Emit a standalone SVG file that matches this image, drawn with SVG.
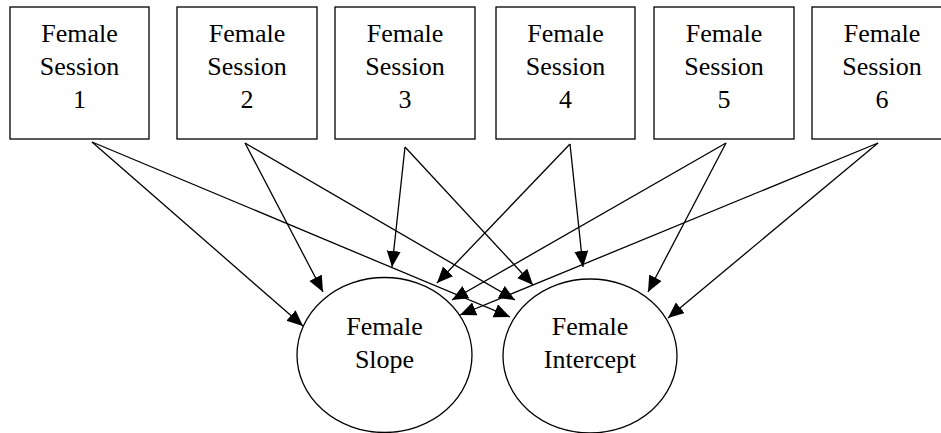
<svg xmlns="http://www.w3.org/2000/svg" width="941" height="433" viewBox="0 0 941 433">
<style>
.box{fill:#fff;stroke:#000;stroke-width:1.3}
.ell{fill:#fff;stroke:#000;stroke-width:1.3}
.lbl{font-family:"Liberation Serif","Times New Roman",serif;font-size:26px;fill:#000;text-anchor:middle}
.edge{stroke:#000;stroke-width:1.3;fill:none;marker-end:url(#ah)}
</style>
<defs>
<marker id="ah" markerUnits="userSpaceOnUse" markerWidth="17" markerHeight="15" refX="16" refY="7" orient="auto">
<path d="M0,0 L16,7 L0,14 z" fill="#000"/>
</marker>
</defs>
<rect width="941" height="433" fill="#fff"/>
<g id="s1"><rect class="box" x="10" y="7" width="139" height="132"/><text class="lbl" x="79.5" y="42">Female</text><text class="lbl" x="79.5" y="75">Session</text><text class="lbl" x="79.5" y="108">1</text></g>
<g id="s2"><rect class="box" x="177" y="7" width="140" height="132"/><text class="lbl" x="247" y="42">Female</text><text class="lbl" x="247" y="75">Session</text><text class="lbl" x="247" y="108">2</text></g>
<g id="s3"><rect class="box" x="335" y="7" width="140" height="132"/><text class="lbl" x="405" y="42">Female</text><text class="lbl" x="405" y="75">Session</text><text class="lbl" x="405" y="108">3</text></g>
<g id="s4"><rect class="box" x="496" y="7" width="139" height="132"/><text class="lbl" x="565.5" y="42">Female</text><text class="lbl" x="565.5" y="75">Session</text><text class="lbl" x="565.5" y="108">4</text></g>
<g id="s5"><rect class="box" x="654" y="7" width="140" height="132"/><text class="lbl" x="724" y="42">Female</text><text class="lbl" x="724" y="75">Session</text><text class="lbl" x="724" y="108">5</text></g>
<g id="s6"><rect class="box" x="812" y="7" width="140" height="132"/><text class="lbl" x="882" y="42">Female</text><text class="lbl" x="882" y="75">Session</text><text class="lbl" x="882" y="108">6</text></g>
<g id="slope"><ellipse class="ell" cx="384.5" cy="355" rx="87.5" ry="77.5"/><text class="lbl" x="384.5" y="335">Female</text><text class="lbl" x="384.5" y="368">Slope</text></g>
<g id="intercept"><ellipse class="ell" cx="590" cy="356" rx="87" ry="77"/><text class="lbl" x="590" y="335">Female</text><text class="lbl" x="590" y="368">Intercept</text></g>
<g id="connectors">
<line class="edge" x1="92" y1="142" x2="303" y2="326"/>
<line class="edge" x1="92" y1="142" x2="510" y2="317"/>
<line class="edge" x1="245" y1="143" x2="323" y2="292"/>
<line class="edge" x1="245" y1="143" x2="515" y2="300"/>
<line class="edge" x1="405" y1="147" x2="392" y2="267"/>
<line class="edge" x1="405" y1="147" x2="533" y2="285"/>
<line class="edge" x1="570" y1="144" x2="437" y2="283"/>
<line class="edge" x1="570" y1="144" x2="583" y2="267"/>
<line class="edge" x1="726" y1="143" x2="452" y2="300"/>
<line class="edge" x1="726" y1="143" x2="648" y2="292"/>
<line class="edge" x1="878" y1="143" x2="460" y2="315"/>
<line class="edge" x1="878" y1="143" x2="668" y2="318"/>
</g>
</svg>
